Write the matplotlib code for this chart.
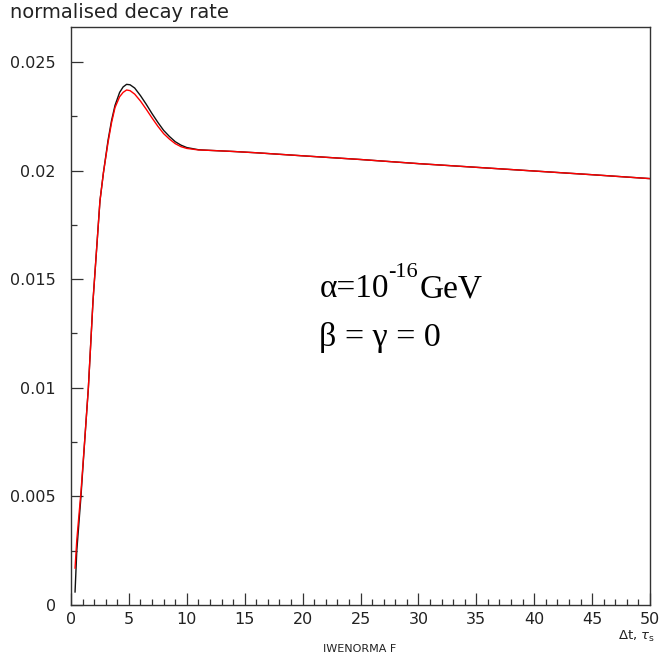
import matplotlib
matplotlib.use("Agg")
import matplotlib.pyplot as plt
from matplotlib.ticker import MultipleLocator

# ---- data ----
t = [0.35, 0.5, 0.86, 1.2, 1.5, 1.9, 2.2, 2.5, 2.8, 3.2, 3.5, 3.8, 4.2, 4.5,
     4.8, 5.1, 5.5, 6.0, 6.5, 7.0, 7.5, 8.0, 8.5, 9.0, 9.5, 10.0, 11, 12,
     14, 16, 20, 25, 30, 35, 40, 45, 50]
rate_black = [0.0006, 0.0025, 0.0050, 0.0077, 0.0100, 0.0140, 0.0163, 0.0186,
              0.0199, 0.0214, 0.0223, 0.0230, 0.0236, 0.02385, 0.02397,
              0.02395, 0.02380, 0.02345, 0.02305, 0.02262, 0.02222, 0.02185,
              0.02157, 0.02133, 0.02117, 0.02106, 0.02096, 0.02093, 0.02088,
              0.02082, 0.02068, 0.02051, 0.02032, 0.02015, 0.01998, 0.01981,
              0.01963]
rate_red = [0.0017, 0.0030, 0.0052, 0.0077, 0.0100, 0.0140, 0.0163, 0.0186,
            0.0199, 0.0213, 0.0222, 0.0229, 0.0234, 0.02360, 0.02371,
            0.02368, 0.02352, 0.02320, 0.02282, 0.02242, 0.02204, 0.02170,
            0.02145, 0.02124, 0.02110, 0.02102, 0.02095, 0.02093, 0.02088,
            0.02082, 0.02068, 0.02051, 0.02032, 0.02015, 0.01998, 0.01981,
            0.01963]
x_ticks = [0, 5, 10, 15, 20, 25, 30, 35, 40, 45, 50]
y_ticks = [0, 0.005, 0.01, 0.015, 0.02, 0.025]
y_labels = ["0", "0.005", "0.01", "0.015", "0.02", "0.025"]

plt.rcParams["xtick.direction"] = "in"
plt.rcParams["ytick.direction"] = "in"

W, H = 659, 654
fig = plt.figure(figsize=(W / 100, H / 100), dpi=100)
ax = fig.add_axes([71 / W, 1 - 605 / H, 579 / W, 578 / H])

ax.plot(t, rate_black, color="#111111", lw=1.0)
ax.plot(t, rate_red, color="red", lw=1.0)

ax.set_xlim(0, 50)
ax.set_ylim(0, 0.02661)
ax.set_xticks(x_ticks)
ax.set_xticklabels([str(v) for v in x_ticks])
ax.set_yticks(y_ticks)
ax.set_yticklabels(y_labels)
ax.xaxis.set_minor_locator(MultipleLocator(1))
ax.yaxis.set_minor_locator(MultipleLocator(0.0025))

tc = "#333333"
ax.tick_params(which="both", direction="in")
ax.tick_params(which="major", length=8.5, width=0.9, color=tc,
               labelsize=11.5, labelcolor="#222222")
ax.tick_params(which="minor", length=4.3, width=0.9, color=tc)
ax.tick_params(axis="y", which="major", pad=11)
ax.tick_params(axis="x", which="major", pad=5)
for s in ax.spines.values():
    s.set_color(tc)
    s.set_linewidth(1.0)

fig.text(10 / W, 1 - 13 / H, "normalised decay rate", fontsize=14,
         va="center", ha="left", color="#222222")
fig.text(655 / W, 1 - 636 / H, r"$\Delta$t, $\tau_{\rm s}$", fontsize=9.5,
         va="center", ha="right", color="#222222")
fig.text(360 / W, 0.0, "IWENORMA F", fontsize=8, va="bottom",
         ha="center", color="#222222")

serif = ["Liberation Serif", "DejaVu Serif"]
renderer = fig.canvas.get_renderer()
t1 = fig.text(320 / W, 1 - 297 / H, "α=10", fontsize=24, family=serif,
              va="baseline", ha="left")
bb = t1.get_window_extent(renderer)
t2 = fig.text(bb.x1 / W - 1 / W, 1 - 277 / H, "-16", fontsize=16,
              family=serif, va="baseline", ha="left")
bb2 = t2.get_window_extent(renderer)
fig.text(bb2.x1 / W + 1 / W, 1 - 297 / H, "GeV", fontsize=24, family=serif,
         va="baseline", ha="left")
fig.text(319 / W, 1 - 346 / H, "β = γ = 0",
         fontsize=24.5, family=serif, va="baseline", ha="left")

fig.savefig("out.png", dpi=100)
